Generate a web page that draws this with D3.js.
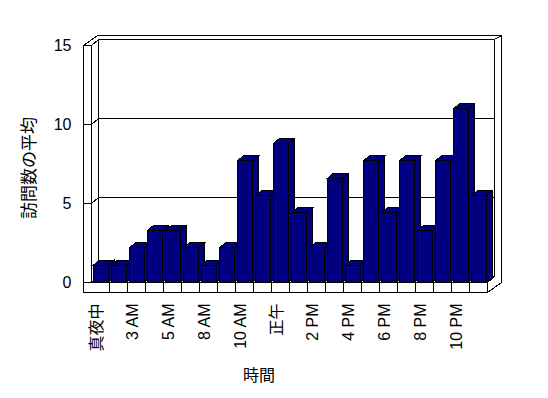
<!DOCTYPE html>
<html>
<head>
<meta charset="utf-8">
<script src="https://cdn.jsdelivr.net/npm/d3@7"></script>
<style>
  body { margin: 0; background: #fff; }
  text { font-family: "Liberation Sans", Arial, "Noto Sans CJK JP", sans-serif; }
</style>
</head>
<body>
<div id="chart"></div>
<script>
// data
var hours = ["真夜中", "1 AM", "3 AM", "4 AM", "5 AM", "6 AM", "8 AM", "9 AM", "10 AM", "11 AM",
             "正午", "1 PM", "2 PM", "3 PM", "4 PM", "5 PM", "6 PM", "7 PM", "8 PM", "9 PM", "10 PM", "11 PM"];
var visits = [1.1, 1.1, 2.2, 3.3, 3.3, 2.2, 1.1, 2.2, 7.7, 5.5, 8.8,
              4.4, 2.2, 6.6, 1.1, 7.7, 4.4, 7.7, 3.3, 7.7, 11, 5.5];
var yTicks = [0, 5, 10, 15];
var yTitle = "訪問数の平均";
var xTitle = "時間";

var width = 548, height = 398;

var svg = d3.select("#chart").append("svg")
    .attr("width", width)
    .attr("height", height)
    .style("shape-rendering", "crispEdges");

// scales (front plane of the 3d box)
var x = d3.scaleBand().domain(hours).range([91.5, 487.5]);
var y = d3.scaleLinear().domain([0, 15]).range([282.5, 45.5]);

var x0 = x.range()[0], x1 = x.range()[1];
var xo = 83.5;            // outer edge of left wall
var yb = 292.5;           // bottom of floor slab
var yz = y(0), yt = y(15);
var g1 = [7, -6];         // depth of plot (gridline plane)
var g2 = [14, -10];       // outer back of wall slabs
var bd = [6, -5];         // bar depth

function poly(pts, fill) {
  svg.append("polygon")
      .attr("points", pts.map(function(p) { return p.join(","); }).join(" "))
      .attr("fill", fill || "#fff")
      .attr("stroke", "#000")
      .attr("stroke-width", 1);
}
function line(a, b) {
  svg.append("line")
      .attr("x1", a[0]).attr("y1", a[1])
      .attr("x2", b[0]).attr("y2", b[1])
      .attr("stroke", "#000");
}

// outer silhouette of walls + floor
poly([[xo, yb], [xo, yt], [xo + g2[0], yt + g2[1]], [x1 + g2[0], yt + g2[1]],
      [x1 + g2[0], yz], [x1, yb]]);
// back wall front face
poly([[x0 + g1[0], yt + g1[1]], [x1 + g1[0], yt + g1[1]], [x1 + g1[0], yz + g1[1]], [x0 + g1[0], yz + g1[1]]]);
// left wall inner face
poly([[x0, yt], [x0 + g1[0], yt + g1[1]], [x0 + g1[0], yz + g1[1]], [x0, yz]]);
// left wall front face
poly([[xo, yt], [x0, yt], [x0, yz], [xo, yz]]);
// floor top + front
poly([[x0, yz], [x1, yz], [x1 + g1[0], yz + g1[1]], [x0 + g1[0], yz + g1[1]]]);
poly([[xo, yz], [x1, yz], [x1, yb], [xo, yb]]);
// corner edges on the right
line([x1 + g1[0], yt + g1[1]], [x1 + g2[0], yt + g2[1]]);
line([x1, yb], [x1 + g2[0], yz]);

// gridlines
yTicks.filter(function(v) { return v > 0 && v < 15; }).forEach(function(v) {
  line([xo, y(v)], [x0, y(v)]);
  line([x0, y(v)], [x0 + g1[0], y(v) + g1[1]]);
  line([x0 + g1[0], y(v) + g1[1]], [x1 + g1[0], y(v) + g1[1]]);
});

// category dividers on the floor front
hours.slice(1).forEach(function(h) {
  line([x(h), yz], [x(h), yb]);
});

// bars
var bw = x.bandwidth() - 3;
hours.forEach(function(h, i) {
  var bx = x(h) + 2, top = y(visits[i]);
  poly([[bx + bw, top], [bx + bw + bd[0], top + bd[1]], [bx + bw + bd[0], yz + bd[1]], [bx + bw, yz]], "#000080");
  poly([[bx, top], [bx + bw, top], [bx + bw + bd[0], top + bd[1]], [bx + bd[0], top + bd[1]]], "#000080");
  poly([[bx, top], [bx + bw, top], [bx + bw, yz], [bx, yz]], "#000080");
});

// y axis labels
svg.append("g")
    .attr("transform", "translate(" + xo + ",0)")
    .call(d3.axisLeft(y).tickValues(yTicks).tickSize(0).tickPadding(12))
    .call(function(g) { g.select(".domain").remove(); })
    .selectAll("text")
    .attr("font-size", 16)
    .attr("font-family", null)
    .attr("fill", "#000");

// x axis labels (every other hour)
svg.append("g")
    .attr("transform", "translate(0," + yb + ")")
    .call(d3.axisBottom(x).tickSize(0).tickFormat(function(d, i) { return i % 2 === 0 ? d : ""; }))
    .call(function(g) { g.select(".domain").remove(); })
    .selectAll("text")
    .attr("transform", "rotate(-90)")
    .attr("x", -11)
    .attr("y", -4)
    .attr("dy", "0.35em")
    .style("text-anchor", "end")
    .attr("font-size", 16)
    .attr("fill", "#000");
svg.selectAll(".tick").attr("font-family", null);

// axis titles
svg.append("text")
    .attr("transform", "translate(29,168) rotate(-90)")
    .attr("text-anchor", "middle")
    .attr("dy", "0.35em")
    .attr("font-size", 17)
    .text(yTitle);

svg.append("text")
    .attr("x", 259)
    .attr("y", 375)
    .attr("text-anchor", "middle")
    .attr("dy", "0.35em")
    .attr("font-size", 16)
    .text(xTitle);
</script>
</body>
</html>
